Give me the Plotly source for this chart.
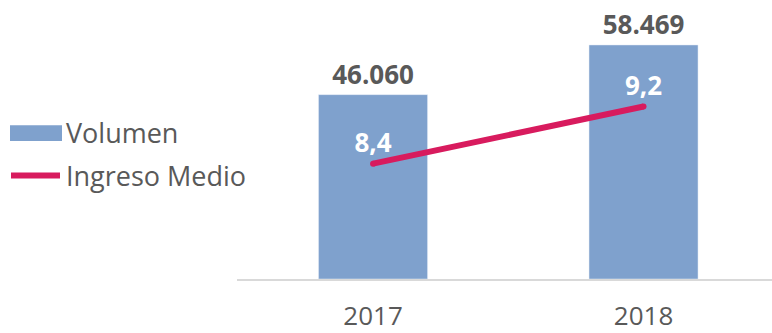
import plotly.graph_objects as go

categories = ["2017", "2018"]
volumen = [46060, 58469]
ingreso_medio = [8.4, 9.2]
legend_labels = ["Volumen", "Ingreso Medio"]

BAR_COLOR = "#7FA1CD"
LINE_COLOR = "#D81B5E"
TEXT_COLOR = "#595959"
FONT = "Open Sans"

W, H = 772, 333
L, B = 237, 50
PW, PH = W - L, H - B

def px(x):
    return (x - L) / PW

def py(y):
    return (PH - y) / PH

fig = go.Figure()
fig.add_trace(go.Bar(
    x=categories, y=volumen, width=0.403, marker_color=BAR_COLOR,
    texttemplate="%{y:,.0f}", textposition="outside",
    textfont=dict(family=FONT, size=26, color=TEXT_COLOR, weight="bold"),
    cliponaxis=False, name=legend_labels[0], showlegend=False,
))
fig.add_trace(go.Scatter(
    x=categories, y=ingreso_medio, yaxis="y2", mode="lines+markers+text",
    line=dict(color=LINE_COLOR, width=6), marker=dict(size=6, color=LINE_COLOR),
    texttemplate="%{y:.1f}", textposition="top center",
    textfont=dict(family=FONT, size=26, color="white", weight="bold"),
    cliponaxis=False, name=legend_labels[1], showlegend=False,
))

shapes = [
    dict(type="rect", xref="paper", yref="paper", x0=px(10), x1=px(62), y0=py(143), y1=py(127),
         fillcolor=BAR_COLOR, line=dict(width=0)),
    dict(type="line", xref="paper", yref="paper", x0=px(11), x1=px(60), y0=py(178), y1=py(178),
         line=dict(color=LINE_COLOR, width=6)),
]
annotations = [
    dict(text=legend_labels[0], xref="paper", yref="paper", x=px(64), y=py(134), xanchor="left",
         yanchor="middle", showarrow=False, font=dict(family=FONT, size=27, color=TEXT_COLOR)),
    dict(text=legend_labels[1], xref="paper", yref="paper", x=px(64), y=py(178), xanchor="left",
         yanchor="middle", showarrow=False, font=dict(family=FONT, size=27, color=TEXT_COLOR)),
]

fig.update_layout(
    width=W, height=H, margin=dict(l=L, r=0, t=0, b=B),
    paper_bgcolor="white", plot_bgcolor="white",
    separators=",.", showlegend=False,
    font=dict(family=FONT, color=TEXT_COLOR),
    xaxis=dict(type="category", range=[-0.503, 1.475], showgrid=False, zeroline=False,
               showline=True, linecolor="#D9D9D9", linewidth=2, ticks="",
               ticklabelstandoff=13,
               tickfont=dict(family=FONT, size=26, color=TEXT_COLOR)),
    yaxis=dict(range=[0, 69700], visible=False),
    yaxis2=dict(range=[6.786, 10.69], overlaying="y", visible=False),
    shapes=shapes, annotations=annotations,
)
fig.write_html("out.html")
